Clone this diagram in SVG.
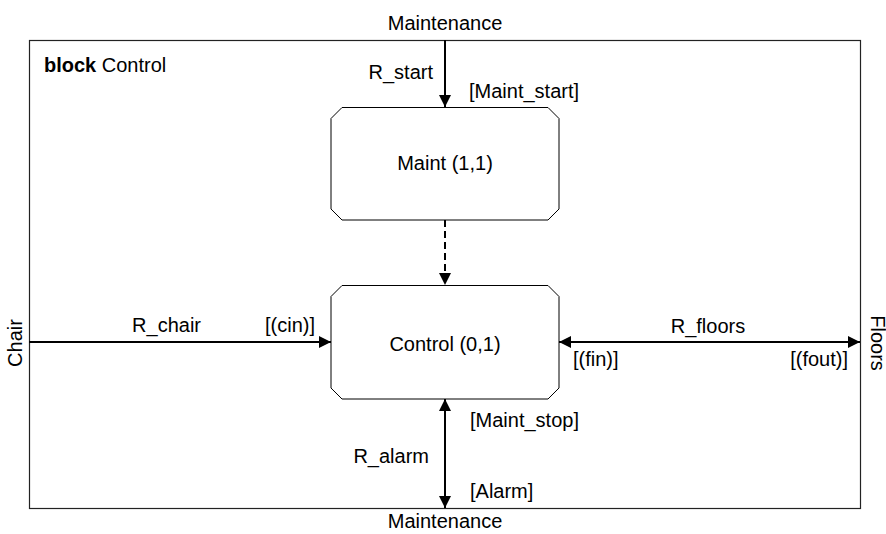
<svg xmlns="http://www.w3.org/2000/svg" width="886" height="534" viewBox="0 0 886 534">
<style>
text{font-family:"Liberation Sans",Arial,sans-serif;font-size:20px;fill:#000}
.box{fill:#fff;stroke:#000;stroke-width:1}
.frame{fill:none;stroke:#222;stroke-width:1.2}
.conn{stroke:#000;stroke-width:2;fill:none}
.dash{stroke-dasharray:7 4}
</style>
<defs>
<marker id="ah" markerUnits="userSpaceOnUse" markerWidth="12" markerHeight="12" refX="12" refY="6" orient="auto-start-reverse" viewBox="0 0 12 12">
<path d="M0,0 L12,6 L0,12 z" fill="#000"/>
</marker>
</defs>
<rect id="frame" class="frame" x="29.5" y="40.5" width="831" height="468"/>
<g id="title"><text x="44" y="72"><tspan font-weight="bold">block</tspan> Control</text></g>
<g id="maint">
<path class="box" d="M342,107.5 L548,107.5 L559,118.5 L559,209 L548,220 L342,220 L331,209 L331,118.5 Z"/>
<text x="445" y="170" text-anchor="middle">Maint (1,1)</text>
</g>
<g id="control">
<path class="box" d="M342,285.5 L548,285.5 L559,296.5 L559,388 L548,399 L342,399 L331,388 L331,296.5 Z"/>
<text x="445" y="351" text-anchor="middle">Control (0,1)</text>
</g>
<g id="connectors">
<line class="conn" x1="445" y1="40" x2="445" y2="107" marker-end="url(#ah)"/>
<line class="conn dash" x1="445" y1="220" x2="445" y2="285" marker-end="url(#ah)"/>
<line class="conn" x1="29" y1="342" x2="331" y2="342" marker-end="url(#ah)"/>
<line class="conn" x1="559" y1="342" x2="860" y2="342" marker-start="url(#ah)" marker-end="url(#ah)"/>
<line class="conn" x1="445" y1="399" x2="445" y2="508" marker-start="url(#ah)" marker-end="url(#ah)"/>
</g>
<g id="labels">
<text x="445" y="30" text-anchor="middle">Maintenance</text>
<text x="433" y="79" text-anchor="end">R_start</text>
<text x="469" y="98">[Maint_start]</text>
<text x="201" y="332" text-anchor="end">R_chair</text>
<text x="315" y="332" text-anchor="end">[(cin)]</text>
<text x="708" y="333" text-anchor="middle">R_floors</text>
<text x="573" y="366">[(fin)]</text>
<text x="848" y="366" text-anchor="end">[(fout)]</text>
<text x="470" y="427">[Maint_stop]</text>
<text x="429" y="463" text-anchor="end">R_alarm</text>
<text x="470" y="498">[Alarm]</text>
<text x="445" y="528" text-anchor="middle">Maintenance</text>
<text transform="translate(22,343) rotate(-90)" text-anchor="middle">Chair</text>
<text transform="translate(871,343) rotate(90)" text-anchor="middle">Floors</text>
</g>
</svg>
